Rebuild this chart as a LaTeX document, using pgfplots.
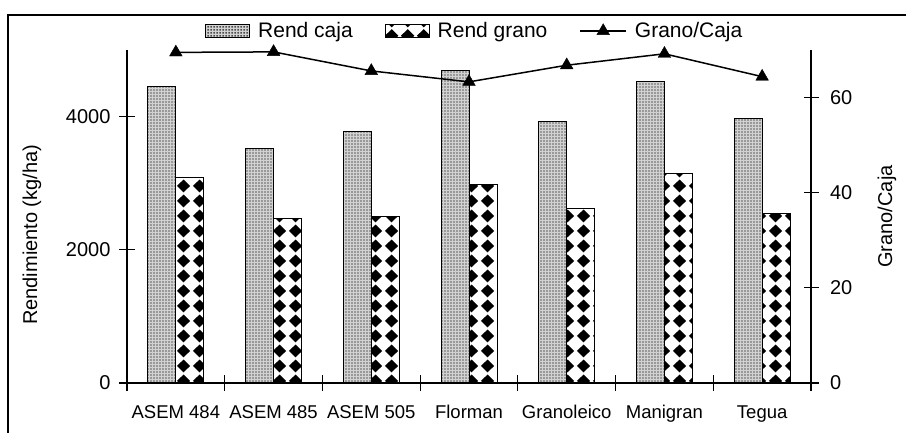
\documentclass[border=0pt]{standalone}
\usepackage{fontspec}
\setmainfont{Liberation Sans}
\usepackage{pgfplots}
\pgfplotsset{compat=1.18}
\usetikzlibrary{patterns}

% fine dot screen for the box yield bars
\pgfdeclarepatternformonly{finedots}{\pgfpointorigin}{\pgfpoint{3bp}{3bp}}{\pgfpoint{3bp}{3bp}}{%
  \pgfpathrectangle{\pgfpoint{0.6bp}{0.6bp}}{\pgfpoint{1.7bp}{1.7bp}}%
  \pgfusepath{fill}}
% black diamonds on a square grid for the grain yield bars
\pgfdeclarepatternformonly{diamondgrid}{\pgfpointorigin}{\pgfpoint{16bp}{15bp}}{\pgfpoint{16bp}{15bp}}{%
  \pgfpathmoveto{\pgfpoint{1bp}{7.5bp}}%
  \pgfpathlineto{\pgfpoint{8bp}{14.3bp}}%
  \pgfpathlineto{\pgfpoint{15bp}{7.5bp}}%
  \pgfpathlineto{\pgfpoint{8bp}{0.7bp}}%
  \pgfpathclose
  \pgfusepath{fill}}

\newcommand{\chartfont}{\fontsize{20bp}{24bp}\selectfont}
\newcommand{\catfont}{\fontsize{18.5bp}{22bp}\selectfont}
\newcommand{\keyfont}{\fontsize{21bp}{25bp}\selectfont}

\pgfplotsset{
  cajabar/.style={draw=black, line width=1bp, preaction={fill=gray!35},
    pattern=finedots, pattern color=black!70},
  granobar/.style={draw=black, line width=1bp, preaction={fill=white},
    pattern=diamondgrid, pattern color=black},
  barkey/.style={legend image code/.code={%
    \draw[##1] (0bp,-6.5bp) rectangle (44bp,6.5bp);}},
  linekey/.style={legend image code/.code={%
    \draw[mark repeat=2, mark phase=2, ##1]
      plot coordinates {(0bp,0bp) (23bp,0bp) (46bp,0bp)};}},
}

\begin{document}
\begin{tikzpicture}
\useasboundingbox (0,0) rectangle (906bp,433bp);
\draw[line width=1.2bp] (8bp,0) -- (8bp,418bp) -- (906bp,418bp);

% yields (kg/ha), left scale
\begin{axis}[
  at={(127bp,50bp)}, anchor=south west,
  scale only axis, width=684bp, height=333bp,
  xmin=-0.5, xmax=6.5, ymin=0, ymax=5000,
  axis x line*=bottom, axis y line*=left,
  axis line style={line width=1.2bp, -},
  ybar=0pt, bar width=28bp,
  xtick={-0.5,0.5,...,6.5}, xticklabels={},
  extra x ticks={0,1,2,3,4,5,6},
  extra x tick labels={ASEM 484,ASEM 485,ASEM 505,Florman,Granoleico,Manigran,Tegua},
  extra x tick style={major tick length=0pt,
    xticklabel style={font=\catfont, yshift=-19bp}},
  ytick={0,2000,4000},
  tick align=center,
  major tick length=16bp,
  tick style={line width=1.2bp, black},
  scaled y ticks=false,
  /pgf/number format/1000 sep={},
  /pgf/number format/assume math mode=true,
  tick label style={font=\chartfont},
  yticklabel style={xshift=-5bp},
  ylabel={Rendimiento (kg/ha)},
  ylabel style={font=\chartfont, at={(axis description cs:-0.139,0.445)}, anchor=center},
]
\addplot[cajabar] coordinates {(0,4450) (1,3515) (2,3780) (3,4685) (4,3930) (5,4530) (6,3965)};
\addplot[granobar] coordinates {(0,3090) (1,2465) (2,2500) (3,2980) (4,2620) (5,3150) (6,2545)};
\end{axis}

% grain-to-box ratio, right scale
\begin{axis}[
  at={(127bp,50bp)}, anchor=south west,
  scale only axis, width=684bp, height=333bp,
  xmin=-0.5, xmax=6.5, ymin=0, ymax=70,
  axis x line=none, axis y line*=right,
  axis line style={line width=1.2bp, -},
  ytick={0,20,40,60},
  tick align=center,
  major tick length=15bp,
  tick style={line width=1.2bp, black},
  /pgf/number format/assume math mode=true,
  tick label style={font=\chartfont},
  yticklabel style={xshift=8bp},
  ylabel={Grano/Caja},
  ylabel style={font=\chartfont, at={(axis description cs:1.111,0.5)}, anchor=center, rotate=0},
  legend columns=3,
  legend style={at={(axis description cs:0.114,1.057)}, anchor=west,
    draw=none, fill=none, inner sep=0pt, font=\keyfont,
    /tikz/every odd column/.append style={column sep=6bp},
    /tikz/every even column/.append style={column sep=30bp},
    /tikz/column 4/.append style={column sep=22bp},
    /tikz/column 5/.append style={column sep=3bp}},
]
\addlegendimage{cajabar, barkey}
\addlegendimage{granobar, barkey}
\addplot[black, line width=1.5bp, mark=triangle*, mark size=7.3bp,
  mark options={solid, fill=black, line width=0.4bp}, linekey]
  coordinates {(0,69.5) (1,69.6) (2,65.6) (3,63.3) (4,66.8) (5,69.2) (6,64.4)};
\legend{Rend caja, Rend grano, Grano/Caja}
\end{axis}
\end{tikzpicture}
\end{document}
